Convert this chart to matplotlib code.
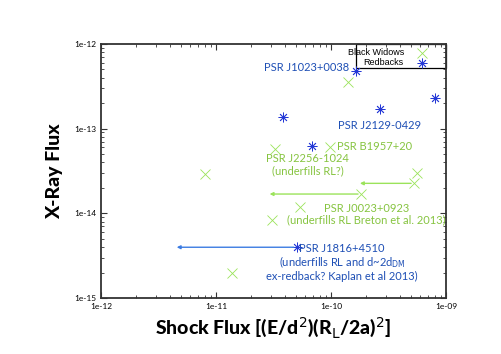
import matplotlib
matplotlib.use("Agg")
import matplotlib.pyplot as plt
from matplotlib.patches import Rectangle
from matplotlib.ticker import LogLocator, NullFormatter, FixedLocator, FixedFormatter

# --- data ---
bw_shock = [1.40e-10, 3.26e-11, 9.8e-11, 5.56e-10, 5.27e-10, 1.82e-10, 5.37e-11, 3.05e-11, 8.1e-12, 1.39e-11]
bw_xray = [3.53e-13, 5.71e-14, 6.03e-14, 2.97e-14, 2.26e-14, 1.69e-14, 1.18e-14, 8.36e-15, 2.92e-14, 1.96e-15]
rb_shock = [1.65e-10, 8.0e-10, 2.67e-10, 3.8e-11, 6.9e-11, 5.03e-11]
rb_xray = [4.84e-13, 2.29e-13, 1.71e-13, 1.39e-13, 6.25e-14, 3.98e-15]

# upper-limit arrows: (start x, end x, y)
bw_arrows = [(5.27e-10, 1.69e-10, 2.26e-14), (1.82e-10, 2.77e-11, 1.69e-14)]
rb_arrows = [(5.03e-11, 4.31e-12, 3.98e-15)]

tick_vals = [1e-12, 1e-11, 1e-10, 1e-9]
xtick_labels = ["1e-12", "1e-11", "1e-10", "1e-09"]
ytick_vals = [1e-15, 1e-14, 1e-13, 1e-12]
ytick_labels = ["1e-15", "1e-14", "1e-13", "1e-12"]

green = "#9be35a"
green_txt = "#86c440"
blue = "#2438d6"
blue_txt = "#1e4fb5"
blue_arrow = "#3b7be2"

plt.rcParams["font.family"] = ["Lato", "DejaVu Sans"]

fig = plt.figure(figsize=(5.01, 3.54), dpi=100)
ax = fig.add_axes([0.2016, 0.158, 0.6884, 0.718])

ax.set_xscale("log")
ax.set_yscale("log")
ax.set_xlim(1e-12, 1e-9)
ax.set_ylim(1e-15, 1e-12)

for x0, x1, y in bw_arrows:
    ax.annotate("", xy=(x1, y), xytext=(x0, y),
                arrowprops=dict(arrowstyle="-|>", color=green, lw=1, mutation_scale=5))
for x0, x1, y in rb_arrows:
    ax.annotate("", xy=(x1, y), xytext=(x0, y),
                arrowprops=dict(arrowstyle="-|>", color=blue_arrow, lw=1, mutation_scale=5))

bw_style = dict(ls="none", marker="x", ms=7, mew=0.6, color=green)
rb_style = dict(ls="none", marker=(8, 2, 0), ms=7, mew=0.6, color=blue)
ax.plot(bw_shock, bw_xray, **bw_style)
ax.plot(rb_shock, rb_xray, **rb_style)

# key box in the top right corner (gnuplot style: text then marker)
ax.add_patch(Rectangle((0.739, 0.906), 0.261, 0.094, transform=ax.transAxes,
                       fill=False, edgecolor="black", lw=0.9, clip_on=False))
key_font = {"family": "Liberation Sans", "size": 6.5}
ax.text(0.878, 0.965, "Black Widows", transform=ax.transAxes, ha="right", va="center", fontdict=key_font)
ax.text(0.878, 0.925, "Redbacks", transform=ax.transAxes, ha="right", va="center", fontdict=key_font)
ax.plot([0.930], [0.965], transform=ax.transAxes, clip_on=False, **bw_style)
ax.plot([0.930], [0.925], transform=ax.transAxes, clip_on=False, **rb_style)

# annotations
fs = 8
ls = 1.05
ax.text(1.45e-10, 5.3e-13, "PSR J1023+0038", color=blue_txt, fontsize=fs, ha="right", va="center")
ax.text(2.65e-10, 1.1e-13, "PSR J2129-0429", color=blue_txt, fontsize=fs, ha="center", va="center")
ax.text(1.12e-10, 6.1e-14, "PSR B1957+20", color=green_txt, fontsize=fs, ha="left", va="center")
ax.text(6.3e-11, 3.75e-14, "PSR J2256-1024\n(underfills RL?)", color=green_txt, fontsize=fs,
        ha="center", va="center", linespacing=ls)
ax.text(2.05e-10, 9.8e-15, "PSR J0023+0923\n(underfills RL Breton et al. 2013)", color=green_txt,
        fontsize=fs, ha="center", va="center", linespacing=ls)
ax.text(1.25e-10, 2.65e-15, "PSR J1816+4510\n(underfills RL and d~2d$_{\\rm DM}$\nex-redback? Kaplan et al 2013)",
        color=blue_txt, fontsize=fs, ha="center", va="center", linespacing=ls)

ax.xaxis.set_major_locator(FixedLocator(tick_vals))
ax.xaxis.set_major_formatter(FixedFormatter(xtick_labels))
ax.yaxis.set_major_locator(FixedLocator(ytick_vals))
ax.yaxis.set_major_formatter(FixedFormatter(ytick_labels))
ax.xaxis.set_minor_locator(LogLocator(base=10, subs=range(2, 10)))
ax.yaxis.set_minor_locator(LogLocator(base=10, subs=range(2, 10)))
ax.xaxis.set_minor_formatter(NullFormatter())
ax.yaxis.set_minor_formatter(NullFormatter())
ax.tick_params(which="both", direction="in", top=True, right=True, labelsize=6, color="#333333")
ax.tick_params(which="major", length=4, width=0.8)
ax.tick_params(which="minor", length=2, width=0.6)
for s in ax.spines.values():
    s.set_linewidth(1.3)
    s.set_color("#333333")

ax.set_xlabel("Shock Flux [(E/d$^2$)(R$_{\\rm L}$/2a)$^2$]", fontsize=14, fontweight="black", labelpad=4)
ax.set_ylabel("X-Ray Flux", fontsize=14, fontweight="black", labelpad=8)

fig.savefig("out.png", dpi=100)
